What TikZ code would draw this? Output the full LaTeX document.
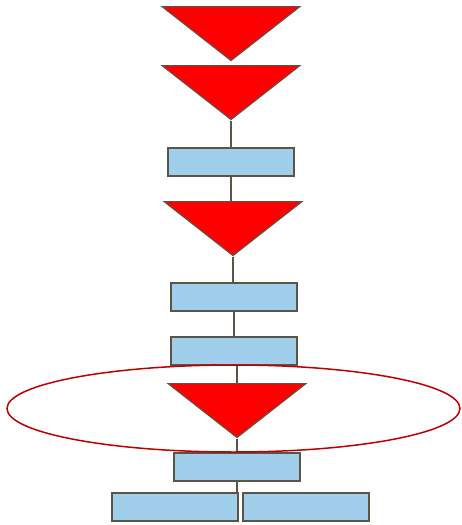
\documentclass[tikz,border=0pt]{standalone}
\usetikzlibrary{shapes.geometric}
\definecolor{edgegray}{HTML}{5E5347}
\definecolor{boxblue}{HTML}{A0CFEB}
\definecolor{ringred}{HTML}{C00000}
\tikzset{
  tri/.style={isosceles triangle, isosceles triangle stretches, shape border rotate=270,
    draw=edgegray, fill=red, line width=1.1pt, inner sep=0pt,
    minimum width=138pt, minimum height=54pt},
  box/.style={rectangle, draw=edgegray, fill=boxblue, line width=1.1pt, inner sep=0pt,
    minimum width=126pt, minimum height=28pt},
  ring/.style={ellipse, draw=ringred, line width=1.5pt, inner sep=0pt,
    minimum width=453pt, minimum height=87pt},
  link/.style={draw=edgegray, line width=1.1pt}
}
\begin{document}
\begin{tikzpicture}[x=1pt,y=-1pt]
        \useasboundingbox (0,0) rectangle (462,525);
        \node[tri, anchor=apex] (t1) at (231,62) {};
        \node[tri, anchor=apex] (t2) at (231,121) {};
        \node[box] (r1) at (231,162) {};
        \node[tri, anchor=apex] (t3) at (233,257) {};
        \node[box] (r2) at (234,297) {};
        \node[box] (r3) at (234,351) {};
        \node[tri, anchor=apex] (t4) at (237,439) {};
        \node[box] (r4) at (237,467) {};
        \node[box] (r5) at (175,507) {};
        \node[box] (r6) at (306,507) {};
        \draw[link] (t2.apex) -- (r1.north);
        \draw[link] (r1.south) -- (r1.south |- t3.lower side);
        \draw[link] (t3.apex) -- (t3.apex |- r2.north);
        \draw[link] (r2.south) -- (r3.north);
        \draw[link] (t4.lower side |- r3.south) -- (t4.lower side);
        \draw[link] (t4.apex) -- (r4.north);
        \draw[link] (r4.south) -- (r4.south |- r5.north);
        \node[ring] (loop) at (233.5,408.5) {};
\end{tikzpicture}
\end{document}
